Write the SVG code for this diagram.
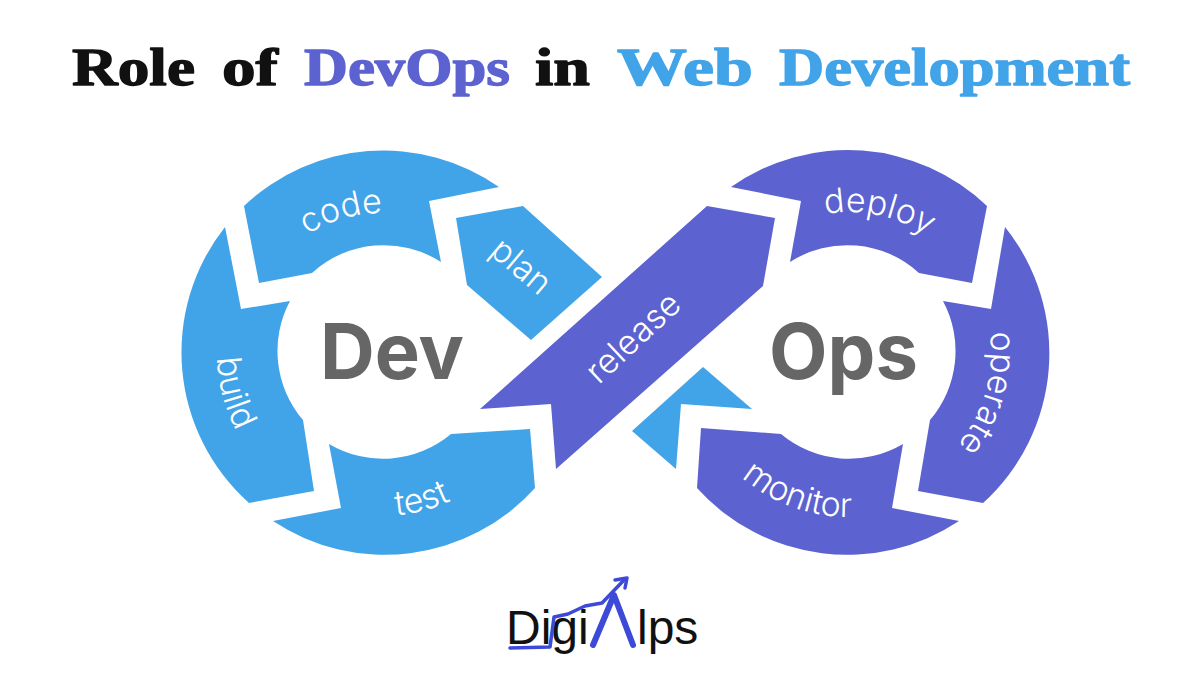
<svg xmlns="http://www.w3.org/2000/svg" width="1200" height="689" viewBox="0 0 1200 689">
<style>
.title{font-family:"Liberation Serif","Times New Roman",serif;font-weight:700;font-size:52px;stroke-width:1.3px;stroke-linejoin:round}
.k{fill:#111;stroke:#111}.p{fill:#5c62d0}.b{fill:#41a3e8}
.title.p{stroke:#5c62d0}.title.b{stroke:#41a3e8}
.lab{font-family:"Inter","Open Sans",sans-serif;font-weight:300;font-size:34px;fill:#fff;text-anchor:middle}
.big{font-family:"Inter","Open Sans",sans-serif;font-weight:700;font-size:77px;fill:#666}
.logo{font-family:"Liberation Sans",Arial,sans-serif;font-size:48px;fill:#111}
.mark{fill:none;stroke:#3d4ad8;stroke-linejoin:round;stroke-linecap:round}
</style>
<defs>
<path id="a-code" d="M265.9,274.8A140,140 0 0 1 438.9,225.1"/>
<path id="a-build" d="M265.3,236.3A165,165 0 0 0 339.3,512.4"/>
<path id="a-test" d="M266.7,468.3A163,163 0 0 0 539.4,395.2"/>
<path id="a-deploy" d="M744.2,258.7A141,141 0 0 1 983,309.5"/>
<path id="a-operate" d="M951.2,254.3A142,142 0 0 1 883.3,490.8"/>
<path id="a-monitor" d="M687.5,381.5A164,164 0 0 0 954.5,478.7"/>
</defs>
<rect width="1200" height="689" fill="#fff"/>
<g id="title">
<text class="title k" x="72" y="85" textLength="123" lengthAdjust="spacingAndGlyphs">Role</text>
<text class="title k" x="222" y="85" textLength="56" lengthAdjust="spacingAndGlyphs">of</text>
<text class="title p" x="304" y="85" textLength="206" lengthAdjust="spacingAndGlyphs">DevOps</text>
<text class="title k" x="535" y="85" textLength="55" lengthAdjust="spacingAndGlyphs">in</text>
<text class="title b" x="617" y="85" textLength="136" lengthAdjust="spacingAndGlyphs">Web</text>
<text class="title b" x="779" y="85" textLength="351" lengthAdjust="spacingAndGlyphs">Development</text>
</g>
<g id="node-code"><path class="b" d="M244,206A202,202 0 0 1 499,187L429,201L441,262A106,106 0 0 0 312,273L259,283Z"/>
<text class="lab"><textPath href="#a-code" startOffset="50%">code</textPath></text></g>
<g id="node-plan"><path class="b" d="M456,218L523,206L602,277L531,340L467,285Z"/>
<text class="lab" transform="translate(514,275) rotate(40)">plan</text></g>
<g id="node-build"><path class="b" d="M225,227L241,309L290,301A106,106 0 0 0 303,420L314,491L249,503A202,202 0 0 1 225,227Z"/>
<text class="lab"><textPath href="#a-build" startOffset="50%">build</textPath></text></g>
<g id="node-test"><path class="b" d="M329,444A106,106 0 0 0 451,434L530,429L535,488A202,202 0 0 1 273,521L341,508Z"/>
<text class="lab"><textPath href="#a-test" startOffset="50%">test</textPath></text></g>
<g id="node-release"><path class="p" d="M707,206L775,218L763,286L556,469L551,404L480,409Z"/>
<text class="lab" transform="translate(641,346) rotate(-43)">release</text></g>
<g id="node-deploy"><path class="p" d="M731,187A202,202 0 0 1 987,206L972,283L919,273A106,106 0 0 0 790,262L801,201Z"/>
<text class="lab"><textPath href="#a-deploy" startOffset="50%">deploy</textPath></text></g>
<g id="node-operate"><path class="p" d="M1005,227A202,202 0 0 1 983,503L918,491L930,420A106,106 0 0 0 943,301L991,309Z"/>
<text class="lab"><textPath href="#a-operate" startOffset="50%">operate</textPath></text></g>
<g id="node-monitor"><path class="p" d="M701,428L781,434A106,106 0 0 0 903,444L892,508L959,521A202,202 0 0 1 697,488Z"/>
<text class="lab"><textPath href="#a-monitor" startOffset="50%">monitor</textPath></text></g>
<g id="node-return"><path class="b" d="M703,367L752,409L681,404L676,469L632,431Z"/></g>
<g id="node-dev"><text class="big" x="320" y="379" textLength="144" lengthAdjust="spacingAndGlyphs">Dev</text></g>
<g id="node-ops"><text class="big" x="769" y="379" textLength="149" lengthAdjust="spacingAndGlyphs">Ops</text></g>
<g id="logo">
<text class="logo" x="506" y="644">Digi</text>
<text class="logo" x="637" y="644">lps</text>
<path class="mark" stroke-width="3.5" d="M510,648L550,647L554,617L568,614L585,606L602,603L625,579"/>
<path class="mark" stroke-width="3.5" d="M615,580L627,578L625,588"/>
<path class="mark" stroke-width="6" d="M593,645L614,595L633,645"/>
</g>
</svg>
